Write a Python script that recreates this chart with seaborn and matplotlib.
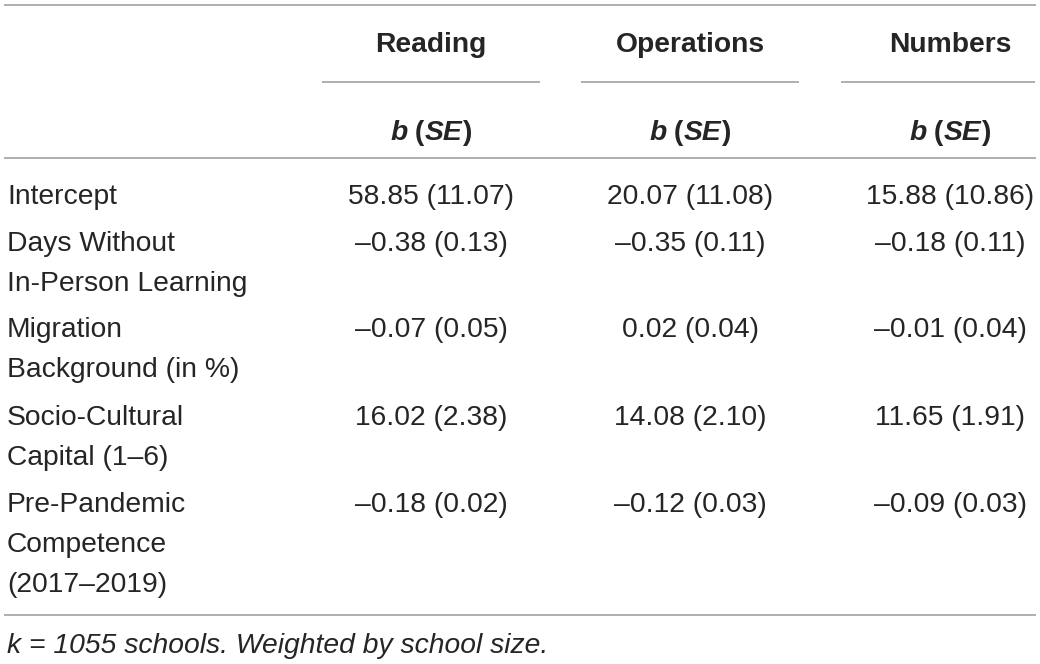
"""
Regression table: school-level competence change by predictor.
"""
import matplotlib
matplotlib.use("Agg")
import matplotlib.pyplot as plt
import pandas as pd
import seaborn as sns

OUTCOMES = ["Reading", "Operations", "Numbers"]
PREDICTORS = [
    "Intercept",
    "Days Without\nIn-Person Learning",
    "Migration\nBackground (in %)",
    "Socio-Cultural\nCapital (1–6)",
    "Pre-Pandemic\nCompetence\n(2017–2019)",
]
READING_B = [58.85, -0.38, -0.07, 16.02, -0.18]
READING_SE = [11.07, 0.13, 0.05, 2.38, 0.02]
OPERATIONS_B = [20.07, -0.35, 0.02, 14.08, -0.12]
OPERATIONS_SE = [11.08, 0.11, 0.04, 2.10, 0.03]
NUMBERS_B = [15.88, -0.18, -0.01, 11.65, -0.09]
NUMBERS_SE = [10.86, 0.11, 0.04, 1.91, 0.03]
NOTE = "k = 1055 schools. Weighted by school size."

TEXT = "#262424"
RULE = "#a8a8a8"
FS = 20.3
W, H = 1040, 664


def fmt(b, se):
    return f"{b:.2f}".replace("-", "–") + f" ({se:.2f})"


def draw_runs(ax, renderer, xc, y, runs):
    """Draw mixed-style text runs centred on xc."""
    texts = []
    for s, style in runs:
        t = ax.text(0, y, s, fontsize=FS, fontweight="bold", fontstyle=style,
                    color=TEXT, va="baseline", ha="left")
        texts.append(t)
    widths = [t.get_window_extent(renderer).width for t in texts]
    x = xc - sum(widths) / 2
    for t, w in zip(texts, widths):
        t.set_x(x)
        x += w


def main():
    sns.set_theme(style="white")
    plt.rcParams["font.family"] = ["Liberation Sans", "DejaVu Sans"]

    df = pd.DataFrame({
        "predictor": PREDICTORS,
        "Reading": [fmt(b, s) for b, s in zip(READING_B, READING_SE)],
        "Operations": [fmt(b, s) for b, s in zip(OPERATIONS_B, OPERATIONS_SE)],
        "Numbers": [fmt(b, s) for b, s in zip(NUMBERS_B, NUMBERS_SE)],
    })

    fig = plt.figure(figsize=(W / 100, H / 100), dpi=100)
    ax = fig.add_axes([0, 0, 1, 1])
    ax.set_xlim(0, W)
    ax.set_ylim(H, 0)
    ax.axis("off")
    renderer = fig.canvas.get_renderer()

    col_x = [431, 690, 950]
    rule_w = 218
    left = 7

    # rules
    ax.hlines([5, 158, 615], 4, 1036, color=RULE, lw=1.3)
    for xc in col_x:
        ax.hlines(82, xc - rule_w / 2, min(xc + rule_w / 2, 1035), color=RULE, lw=1.3)

    # headers
    for xc, name in zip(col_x, OUTCOMES):
        ax.text(xc, 52, name, fontsize=FS, fontweight="bold", color=TEXT,
                ha="center", va="baseline")
        draw_runs(ax, renderer, xc, 140,
                  [("b", "italic"), (" (", "normal"), ("SE", "italic"), (")", "normal")])

    # body
    row_base = [204, 251, 337, 425, 512]
    step = 40
    for base, (_, row) in zip(row_base, df.iterrows()):
        for i, line in enumerate(row["predictor"].split("\n")):
            ax.text(left, base + i * step, line, fontsize=FS, color=TEXT,
                    ha="left", va="baseline")
        for xc, name in zip(col_x, OUTCOMES):
            ax.text(xc, base, row[name], fontsize=FS, color=TEXT,
                    ha="center", va="baseline")

    ax.text(left, 653, NOTE, fontsize=FS, fontstyle="italic", color=TEXT,
            ha="left", va="baseline")

    fig.savefig("out.png", dpi=100)
    plt.close(fig)


if __name__ == "__main__":
    main()
